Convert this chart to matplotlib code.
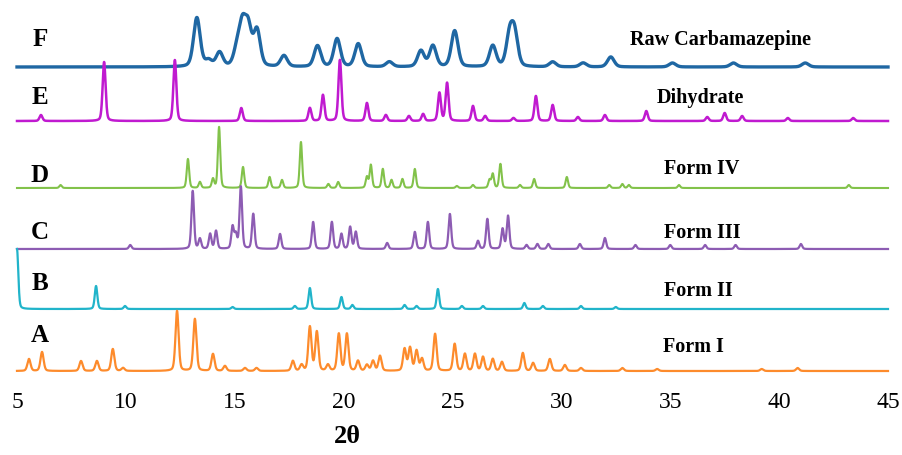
import numpy as np
import matplotlib.pyplot as plt

# ---- peak lists (2theta, relative height) ----
raw_pos = [13.26, 13.8, 14.3, 15.1, 15.35, 15.62, 16.02, 17.26, 18.8, 19.7, 20.67, 22.1,
           23.55, 24.1, 25.1, 26.85, 27.62, 27.85, 29.6, 31.0, 32.27, 35.1, 37.9, 41.2]
raw_int = [49, 6, 14, 16, 38, 37, 36, 11, 21, 28, 23, 5,
           16, 21, 36, 21, 30, 32, 5, 4, 10, 4, 4, 4]

dihyd_pos = [6.1, 9.0, 12.25, 15.3, 18.45, 19.05, 19.83, 21.07, 21.94, 23.0, 23.65, 24.4,
             24.75, 25.94, 26.5, 27.8, 28.83, 29.6, 30.76, 32.0, 33.9, 36.7, 37.5, 38.3,
             40.4, 43.4]
dihyd_int = [6, 59, 61, 13, 13, 26, 61, 18, 6, 5, 7, 28,
             38, 15, 5, 3, 25, 16, 4, 6, 10, 4, 8, 5,
             3, 3]

f4_pos = [7.0, 12.85, 13.4, 14.0, 14.28, 15.38, 16.6, 17.17, 18.04, 19.3, 19.75, 21.07,
          21.25, 21.8, 22.2, 22.7, 23.27, 25.2, 25.94, 26.7, 26.85, 27.2, 28.1, 28.75,
          30.25, 32.2, 32.8, 33.1, 35.4, 43.2]
f4_int = [3, 29, 6, 9, 61, 21, 11, 8, 46, 4, 6, 11,
          23, 19, 8, 9, 19, 2, 3, 8, 14, 24, 3, 9,
          11, 3, 4, 3, 3, 3]

f3_pos = [10.2, 13.07, 13.4, 13.87, 14.14, 14.9, 15.05, 15.28, 15.85, 17.08, 18.6, 19.46,
          19.9, 20.3, 20.56, 22.0, 23.27, 23.87, 24.88, 26.17, 26.6, 27.3, 27.55, 28.4,
          28.9, 29.4, 30.85, 32.0, 33.4, 35.0, 36.6, 38.0, 41.0]
f3_int = [4, 58, 10, 15, 18, 22, 14, 62, 35, 15, 27, 27,
          15, 22, 17, 6, 17, 27, 35, 8, 30, 20, 33, 4,
          5, 5, 5, 11, 4, 4, 4, 4, 5]

f2_pos = [5.0, 8.63, 9.96, 14.9, 17.76, 18.45, 19.9, 20.4, 22.8, 23.35, 24.33, 25.43,
          26.4, 28.3, 29.15, 30.9, 32.5]
f2_int = [60, 23, 3, 2, 3, 21, 12, 4, 4, 3, 20, 3,
          3, 6, 3, 3, 2]

f1_pos = [5.55, 6.15, 7.94, 8.67, 9.4, 9.87, 12.35, 13.17, 14.0, 14.55, 15.47, 16.0,
          17.67, 18.07, 18.45, 18.77, 19.28, 19.78, 20.15, 20.66, 21.07, 21.35, 21.67, 22.8,
          23.05, 23.35, 23.6, 24.2, 25.1, 25.57, 26.03, 26.4, 26.85, 27.27, 28.23, 28.7,
          29.47, 30.16, 30.9, 32.8, 34.4, 39.2, 40.85]
f1_int = [12, 19, 10, 10, 22, 3, 60, 52, 17, 5, 3, 3,
          10, 6, 44, 39, 6, 37, 37, 10, 6, 10, 15, 22,
          23, 20, 12, 37, 27, 17, 17, 14, 12, 9, 18, 8,
          12, 6, 3, 3, 2, 2, 3]

letters = ['F', 'E', 'D', 'C', 'B', 'A']
names = ['Raw Carbamazepine', 'Dihydrate', 'Form IV', 'Form III', 'Form II', 'Form I']
tick_vals = [5, 10, 15, 20, 25, 30, 35, 40, 45]


def profile(x, pos, height, fwhm):
    # pseudo-Voigt sum of the listed reflections
    y = np.zeros_like(x)
    g = fwhm / 2.3548
    for p, h in zip(pos, height):
        lor = 1.0 / (1.0 + ((x - p) / (fwhm / 2)) ** 2)
        gau = np.exp(-0.5 * ((x - p) / g) ** 2)
        y += h * (0.3 * lor + 0.7 * gau)
    return y


def main():
    plt.rcParams['font.family'] = 'serif'
    plt.rcParams['font.serif'] = ['Liberation Serif', 'DejaVu Serif']

    fig = plt.figure(figsize=(9.02, 4.56), dpi=100)
    ax = fig.add_axes([17 / 902, 1 - 380 / 456, 871 / 902, 380 / 456])

    x = np.linspace(5, 45, 6000)
    series = [(raw_pos, raw_int), (dihyd_pos, dihyd_int), (f4_pos, f4_int),
              (f3_pos, f3_int), (f2_pos, f2_int), (f1_pos, f1_int)]
    offsets = [312, 258, 191, 130, 70, 8]
    colors = ['#1f67a3', '#c01ad0', '#82c24a', '#8d5cb3', '#21b4ca', '#fd8b2c']
    widths = [0.36, 0.16, 0.13, 0.14, 0.14, 0.17]
    lws = [2.4, 1.8, 1.5, 1.6, 1.6, 1.6]
    letter_y = [340, 282, 204, 147, 97, 44]
    name_xy = [(37.3, 340), (36.4, 282), (36.45, 211), (36.45, 147), (36.3, 89), (36.05, 33)]

    for (pos, inten), off, c, w, lw in zip(series, offsets, colors, widths, lws):
        ax.plot(x, off + profile(x, pos, inten, w), color=c, lw=lw,
                solid_joinstyle='round', clip_on=False)

    for L, ly in zip(letters, letter_y):
        ax.text(6.05, ly, L, fontsize=18, fontweight='bold', ha='center', va='center')
    for nm, (nx, ny) in zip(names, name_xy):
        ax.text(nx, ny, nm, fontsize=14.5, fontweight='bold', ha='center', va='center')

    ax.set_xlim(5, 45)
    ax.set_ylim(0, 380)
    ax.set_xticks(tick_vals)
    ax.set_xticklabels([str(t) for t in tick_vals], fontsize=17)
    ax.set_yticks([])
    ax.tick_params(axis='x', length=0, pad=9)
    for s in ax.spines.values():
        s.set_visible(False)

    fig.text(347 / 902, 1 - 437 / 456, '2θ', fontsize=19, fontweight='bold',
             ha='center', va='center')

    fig.savefig('out.png', dpi=100)
    plt.close(fig)


if __name__ == '__main__':
    main()
